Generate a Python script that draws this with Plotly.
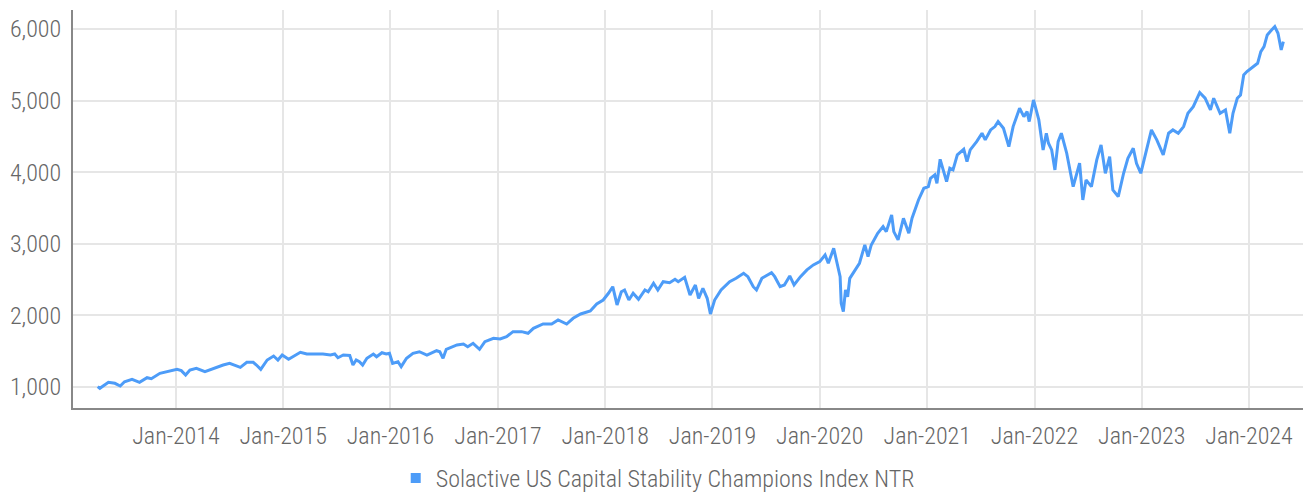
import plotly.graph_objects as go
import pandas as pd

series_name = "Solactive US Capital Stability Champions Index NTR"

# decimal-year dates
years = [
    2013.27, 2013.29, 2013.37, 2013.43, 2013.48, 2013.52, 2013.59, 2013.66, 2013.73, 2013.77,
    2013.85, 2013.94, 2014.01, 2014.05, 2014.09, 2014.13, 2014.19, 2014.27, 2014.35, 2014.44,
    2014.50, 2014.60, 2014.66, 2014.72, 2014.75, 2014.79, 2014.85, 2014.91, 2014.95, 2014.99,
    2015.05, 2015.09, 2015.16, 2015.22, 2015.31, 2015.37, 2015.44, 2015.48, 2015.51, 2015.56,
    2015.62, 2015.65, 2015.68, 2015.71, 2015.74, 2015.78, 2015.84, 2015.87, 2015.92, 2015.96,
    2015.99, 2016.02, 2016.07, 2016.10, 2016.15, 2016.21, 2016.27, 2016.34, 2016.43, 2016.46,
    2016.49, 2016.52, 2016.62, 2016.68, 2016.72, 2016.77, 2016.83, 2016.88, 2016.96, 2017.02,
    2017.08, 2017.14, 2017.22, 2017.28, 2017.33, 2017.42, 2017.50, 2017.56, 2017.64, 2017.70,
    2017.77, 2017.86, 2017.92, 2017.98, 2018.03, 2018.07, 2018.11, 2018.15, 2018.18, 2018.22,
    2018.26, 2018.31, 2018.37, 2018.40, 2018.45, 2018.49, 2018.54, 2018.60, 2018.65, 2018.68,
    2018.74, 2018.79, 2018.84, 2018.87, 2018.91, 2018.95, 2018.98, 2019.02, 2019.08, 2019.16,
    2019.22, 2019.29, 2019.33, 2019.38, 2019.41, 2019.46, 2019.55, 2019.58, 2019.63, 2019.67,
    2019.72, 2019.76, 2019.82, 2019.88, 2019.94, 2020.00, 2020.05, 2020.08, 2020.13, 2020.16,
    2020.19, 2020.20, 2020.22, 2020.24, 2020.26, 2020.28, 2020.33, 2020.37, 2020.42, 2020.45,
    2020.48, 2020.54, 2020.59, 2020.62, 2020.67, 2020.69, 2020.73, 2020.78, 2020.83, 2020.86,
    2020.92, 2020.97, 2021.01, 2021.03, 2021.07, 2021.09, 2021.12, 2021.18, 2021.21, 2021.24,
    2021.28, 2021.34, 2021.37, 2021.40, 2021.46, 2021.51, 2021.54, 2021.59, 2021.63, 2021.66,
    2021.71, 2021.76, 2021.80, 2021.86, 2021.90, 2021.93, 2021.95, 2021.99, 2022.04, 2022.08,
    2022.11, 2022.13, 2022.16, 2022.19, 2022.22, 2022.25, 2022.30, 2022.36, 2022.42, 2022.45,
    2022.48, 2022.53, 2022.58, 2022.62, 2022.66, 2022.70, 2022.73, 2022.78, 2022.83, 2022.87,
    2022.92, 2022.95, 2022.99, 2023.04, 2023.09, 2023.14, 2023.20, 2023.25, 2023.29, 2023.34,
    2023.39, 2023.43, 2023.48, 2023.54, 2023.59, 2023.64, 2023.67, 2023.73, 2023.78, 2023.82,
    2023.85, 2023.89, 2023.92, 2023.95, 2023.98, 2024.08, 2024.11, 2024.14, 2024.17, 2024.21,
    2024.24, 2024.27, 2024.30, 2024.32,
]

values = [
    1005, 982, 1066, 1052, 1014, 1074, 1107, 1066, 1130, 1116,
    1191, 1228, 1247, 1228, 1168, 1237, 1261, 1214, 1261, 1307,
    1331, 1275, 1345, 1345, 1307, 1247, 1377, 1433, 1377, 1447,
    1387, 1423, 1485, 1461, 1457, 1461, 1447, 1461, 1409, 1447,
    1440, 1307, 1377, 1353, 1307, 1401, 1461, 1423, 1479, 1461,
    1471, 1331, 1353, 1284, 1401, 1471, 1493, 1447, 1507, 1493,
    1401, 1527, 1587, 1601, 1563, 1610, 1527, 1633, 1680, 1671,
    1703, 1773, 1773, 1750, 1820, 1880, 1880, 1936, 1880, 1960,
    2020, 2062, 2160, 2215, 2309, 2401, 2146, 2331, 2355, 2215,
    2309, 2225, 2355, 2331, 2449, 2355, 2471, 2457, 2505, 2471,
    2532, 2285, 2425, 2239, 2379, 2239, 2020, 2215, 2355, 2471,
    2518, 2588, 2541, 2401, 2355, 2518, 2597, 2541, 2401, 2425,
    2551, 2425, 2541, 2635, 2705, 2751, 2844, 2728, 2938, 2728,
    2541, 2169, 2052, 2355, 2261, 2518, 2635, 2728, 2984, 2821,
    2984, 3147, 3240, 3170, 3403, 3170, 3054, 3357, 3147, 3357,
    3612, 3775, 3798, 3915, 3962, 3845, 4180, 3868, 4055, 4032,
    4241, 4320, 4147, 4311, 4427, 4544, 4451, 4590, 4637, 4707,
    4614, 4357, 4637, 4893, 4776, 4846, 4707, 5009, 4730, 4311,
    4544, 4404, 4311, 4032, 4427, 4544, 4265, 3798, 4125, 3612,
    3892, 3798, 4171, 4381, 3985, 4218, 3752, 3659, 3985, 4194,
    4334, 4125, 3985, 4265, 4590, 4451, 4241, 4544, 4590, 4544,
    4637, 4823, 4916, 5112, 5033, 4870, 5033, 4823, 4870, 4544,
    4823, 5033, 5079, 5358, 5405, 5521, 5684, 5754, 5917, 5987,
    6033, 5940, 5708, 5824,
]

y_ticks = [1000, 2000, 3000, 4000, 5000, 6000]
x_tick_years = list(range(2014, 2025))


def to_date(y):
    base = pd.Timestamp(year=int(y), month=1, day=1)
    return base + pd.Timedelta(days=(y - int(y)) * 365.25)


dates = [to_date(y) for y in years]
line_color = "#4d9cf8"
font_family = "Roboto Condensed, DejaVu Sans Condensed, Liberation Sans Narrow, Roboto, sans-serif"
text_color = "#666666"

fig = go.Figure()
fig.add_trace(go.Scatter(
    x=dates, y=values, mode="lines",
    line=dict(color=line_color, width=3),
    showlegend=False, name=series_name,
))
fig.add_trace(go.Scatter(
    x=[None], y=[None], mode="markers",
    marker=dict(symbol="square", size=10, color=line_color),
    name=series_name, showlegend=True,
))

fig.update_layout(
    width=1306, height=494, autosize=False,
    margin=dict(l=73, r=3, t=10, b=86),
    paper_bgcolor="white", plot_bgcolor="white",
    font=dict(family=font_family, color=text_color, size=24, weight=300),
    legend=dict(
        orientation="h", xref="container", yref="container",
        x=0.303, xanchor="left", y=0.077, yanchor="top",
        font=dict(size=24, color=text_color, weight=300), itemwidth=30,
    ),
)
fig.update_xaxes(
    type="date",
    range=[to_date(2013.04), to_date(2024.503)],
    tickvals=[pd.Timestamp(year=y, month=1, day=1) for y in x_tick_years],
    tickformat="%b-%Y",
    showgrid=True, gridcolor="#e6e6e6", gridwidth=2,
    showline=True, linecolor="#888888", linewidth=2,
    ticks="", ticklabelstandoff=5,
    tickfont=dict(size=24, color=text_color, weight=300),
    zeroline=False, automargin=False,
)
fig.update_yaxes(
    range=[707, 6265],
    tickvals=y_ticks, tickformat=",",
    showgrid=True, gridcolor="#e6e6e6", gridwidth=2,
    showline=True, linecolor="#888888", linewidth=2,
    ticks="", ticklabelstandoff=5,
    tickfont=dict(size=24, color=text_color, weight=300),
    zeroline=False, automargin=False,
)

fig.write_html(
    "out.html",
    config={"displayModeBar": False},
    post_script="document.body.style.margin='0';document.body.style.overflow='hidden';",
)
